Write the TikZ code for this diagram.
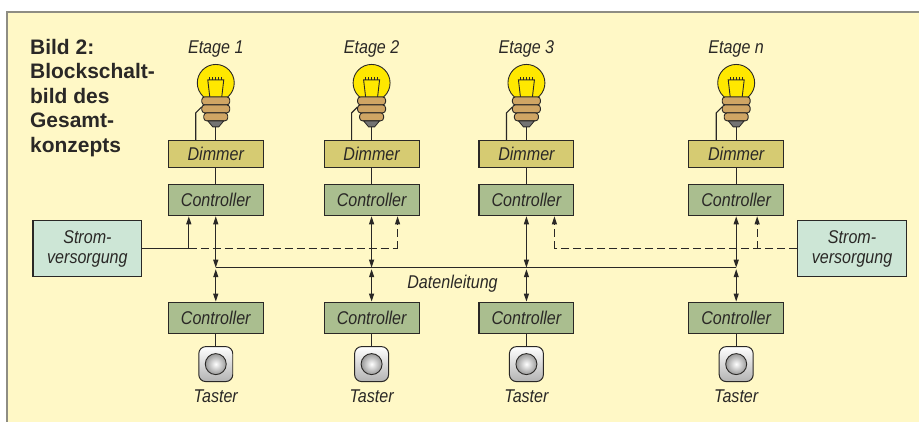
\documentclass[tikz,border=0pt]{standalone}
\usepackage{fontspec}
\setsansfont{Liberation Sans}
\newfontfamily\narrowsf[FakeStretch=0.87]{Liberation Sans}
\usetikzlibrary{arrows.meta}

\definecolor{paper}{HTML}{FFF8C6}
\definecolor{frame}{HTML}{8E8D83}
\definecolor{ink}{HTML}{2A2826}
\definecolor{dimmerfill}{HTML}{D6CB72}
\definecolor{ctrlfill}{HTML}{AABE8F}
\definecolor{supplyfill}{HTML}{CDE6D6}
\definecolor{glass}{HTML}{FFE800}
\definecolor{brass}{HTML}{CFA564}

\begin{document}
\begin{tikzpicture}[x=1pt,y=-1pt,
    box/.style={draw=ink, line width=1.1pt, inner sep=0pt, minimum width=95pt,
      text=ink, font=\narrowsf\itshape\fontsize{18.5}{20}\selectfont},
    dimmer/.style={box, fill=dimmerfill, minimum height=27pt},
    ctrl/.style={box, fill=ctrlfill, minimum height=31pt},
    supply/.style={box, fill=supplyfill, minimum width=109pt, minimum height=56pt, align=center},
    lbl/.style={text=ink, inner sep=0pt, font=\narrowsf\itshape\fontsize{18.5}{20}\selectfont},
    taster/.style={draw=ink, line width=1pt, rounded corners=7pt, inner sep=0pt,
      minimum width=34pt, minimum height=35pt, top color=white, bottom color=black!30},
    wire/.style={draw=ink, line width=1.1pt},
    optional/.style={wire, dash pattern=on 8pt off 4pt},
    data/.style={wire, {Triangle[length=8pt,width=5pt]}-{Triangle[length=8pt,width=5pt]}},
    power/.style={wire, -{Triangle[length=8pt,width=5pt]}}]

  % paper and frame
  \fill[paper] (7,12) rectangle (920,422);
  \draw[frame, line width=2pt] (7,422) -- (7,12) -- (920,12);
  \useasboundingbox (0,0) rectangle (920,422);

  % caption
  \node[anchor=north west, inner sep=0pt, align=left, text=ink,
    font=\sffamily\bfseries\fontsize{21}{24.5}\selectfont] (title) at (30,39)
    {Bild 2:\\Blockschalt-\\bild des\\Gesamt-\\konzepts};

  % floors
  \node[lbl] (e1) at (216,49) {Etage 1};
  \node[lbl] (e2) at (372,49) {Etage 2};
  \node[lbl] (e3) at (527,49) {Etage 3};
  \node[lbl] (e4) at (737,49) {Etage n};

  \node[dimmer] (d1) at (216,154.5) {Dimmer};
  \node[dimmer] (d2) at (372,154.5) {Dimmer};
  \node[dimmer] (d3) at (527,154.5) {Dimmer};
  \node[dimmer] (d4) at (737,154.5) {Dimmer};

  \node[ctrl] (c1) at (216,200.5) {Controller};
  \node[ctrl] (c2) at (372,200.5) {Controller};
  \node[ctrl] (c3) at (527,200.5) {Controller};
  \node[ctrl] (c4) at (737,200.5) {Controller};

  \node[ctrl] (b1) at (216,318) {Controller};
  \node[ctrl] (b2) at (372,318) {Controller};
  \node[ctrl] (b3) at (527,318) {Controller};
  \node[ctrl] (b4) at (737,318) {Controller};

  \node[taster] (k1) at (216,364.5) {};
  \node[taster] (k2) at (372,364.5) {};
  \node[taster] (k3) at (527,364.5) {};
  \node[taster] (k4) at (737,364.5) {};

  \node[lbl] (t1) at (216,397) {Taster};
  \node[lbl] (t2) at (372,397) {Taster};
  \node[lbl] (t3) at (527,397) {Taster};
  \node[lbl] (t4) at (737,397) {Taster};

  % power supplies
  \node[supply] (s1) at (87.5,249) {Strom-\\versorgung};
  \node[supply] (s2) at (853,249) {Strom-\\versorgung};

  % lamps and push buttons
  \foreach \x/\n in {216/1,372/2,527/3,737/4} {
    \filldraw[fill=glass, draw=ink, line width=0.9pt] (\x,83) circle (18.5);
    \draw[ink, line width=0.9pt] (\x-6,97) -- (\x-8,80) -- (\x+8,80) -- (\x+6,97);
    \foreach \t in {-6,-3,0,3,6}
      \draw[ink, line width=0.8pt] (\x+\t,80) -- (\x+\t,77);
    \filldraw[fill=brass, draw=ink, line width=0.9pt, rounded corners=3pt]
      (\x-14,97) rectangle (\x+14,105);
    \filldraw[fill=brass, draw=ink, line width=0.9pt, rounded corners=3pt]
      (\x-14,105) rectangle (\x+14,113);
    \filldraw[fill=brass, draw=ink, line width=0.9pt, rounded corners=3pt]
      (\x-12,113) rectangle (\x+12,121);
    \filldraw[fill=black!55, draw=ink, line width=0.8pt]
      (\x-8,121) -- (\x+8,121) -- (\x+3,127) -- (\x-3,127) -- cycle;
    \coordinate (w\n) at (\x-20,113);
    \draw[wire] (\x,127) -- (d\n.north);
    \draw[wire] (\x-14,107) -- (w\n) -- (w\n |- d\n.north);
    \draw[draw=ink, line width=0.9pt, inner color=white, outer color=black!40]
      (k\n) circle (10.5);
    \draw[wire] (d\n) -- (c\n);
    \draw[wire] (b\n) -- (k\n);
  }

  % supply lines
  \coordinate (p1) at (189,249);
  \coordinate (p2) at (398,249);
  \coordinate (p3) at (555,249);
  \coordinate (p4) at (758,249);
  \draw[wire] (s1.east) -- (p1);
  \draw[optional] (p1) -- (p2);
  \draw[optional] (s2.west) -- (p3);
  \draw[power] (p1) -- (p1 |- c1.south);
  \draw[power, optional] (p2) -- (p2 |- c2.south);
  \draw[power, optional] (p3) -- (p3 |- c3.south);
  \draw[power, optional] (p4) -- (p4 |- c4.south);

  % data bus
  \coordinate (bus1) at (216,268);
  \coordinate (bus4) at (737,268);
  \draw[wire] (bus1) -- (bus4);
  \node[lbl] (bus) at (453,284) {Datenleitung};
  \foreach \n in {1,2,3,4} {
    \draw[data] (c\n.south) -- (c\n.south |- bus1);
    \draw[data, shorten <=1.5pt] (c\n.south |- bus1) -- (b\n.north);
  }
\end{tikzpicture}
\end{document}
